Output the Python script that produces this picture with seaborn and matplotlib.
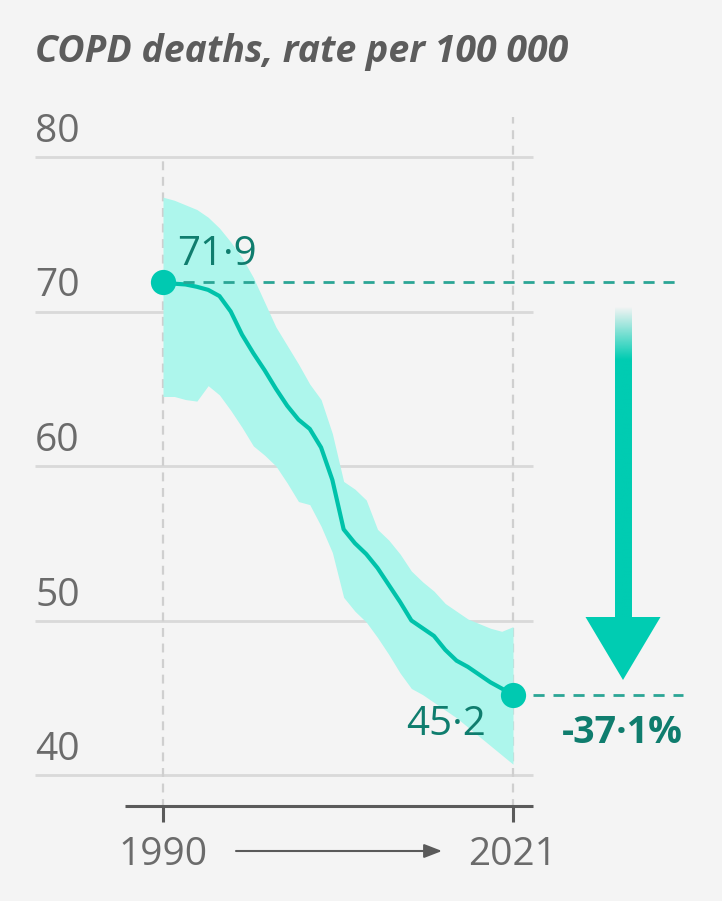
import matplotlib
matplotlib.use("Agg")
import matplotlib.pyplot as plt
import numpy as np
import pandas as pd
import seaborn as sns

# --- donnees ---
YEARS = list(range(1990, 2022))
RATE = [71.9, 71.8, 71.75, 71.6, 71.4, 71.0, 70.0, 68.5, 67.3, 66.2, 65.0, 63.9,
        63.0, 62.4, 61.2, 59.1, 55.9, 55.0, 54.3, 53.4, 52.3, 51.2, 50.0, 49.5,
        49.0, 48.1, 47.4, 47.0, 46.5, 46.0, 45.6, 45.2]
UPPER = [77.4, 77.2, 76.9, 76.6, 76.1, 75.4, 74.5, 73.5, 72.2, 70.6, 69.0, 67.8,
         66.6, 65.3, 64.3, 62.1, 59.0, 58.5, 57.8, 55.9, 55.2, 54.3, 53.2, 52.5,
         51.9, 51.1, 50.6, 50.1, 49.8, 49.5, 49.3, 49.6]
LOWER = [64.5, 64.5, 64.3, 64.2, 65.2, 64.6, 63.6, 62.5, 61.3, 60.7, 60.0, 58.9,
         57.7, 57.5, 56.1, 54.4, 51.5, 50.6, 49.9, 48.9, 47.8, 46.6, 45.6, 45.2,
         44.7, 44.2, 43.7, 43.1, 42.5, 41.9, 41.3, 40.7]
Y_TICKS = [40, 50, 60, 70, 80]
X_TICKS = [1990, 2021]
TITLE = "COPD deaths, rate per 100 000"
CHANGE = "-37·1%"

BG = "#f4f4f4"
GRID = "#d9d9d9"
AXIS = "#5a5a5a"
TXT = "#6b6b6b"
LINE = "#00c2aa"
BAND = "#adf6ec"
DOT = "#00c9b1"
DARK = "#0f7d6e"
ARROW = "#00ccb2"

df = pd.DataFrame({"year": YEARS, "rate": RATE, "upper": UPPER, "lower": LOWER})

sns.set_theme(style="white")
plt.rcParams["font.family"] = ["Open Sans", "DejaVu Sans"]

W, H = 722, 901
PX_YEAR = 350 / 31       # pixels par annee
PX_UNIT = 154.5 / 10     # pixels par unite


def px_x(p):
    return 1990 + (p - 163) / PX_YEAR


def px_y(p):
    return 80 - (p - 157) / PX_UNIT


fig = plt.figure(figsize=(W / 100, H / 100), dpi=100)
fig.patch.set_facecolor(BG)
ax = fig.add_axes([0, 0, 1, 1])

# grille
ax.hlines(Y_TICKS, px_x(35), px_x(533), color=GRID, lw=2, zorder=1)
for t in Y_TICKS:
    ax.text(px_x(35), t + 15 / PX_UNIT, str(t), ha="left", va="baseline",
            fontsize=28, color=TXT)
ax.vlines(X_TICKS[0], px_y(808), Y_TICKS[-1], color="#cfcfcf", lw=1.6,
          linestyles=(0, (4, 3)), zorder=1)
ax.vlines(X_TICKS[1], px_y(808), px_y(117), color="#cfcfcf", lw=1.6,
          linestyles=(0, (4, 3)), zorder=1)

# axe du bas
y_axis = px_y(806)
ax.hlines(y_axis, px_x(125), px_x(533), color=AXIS, lw=2.2, zorder=2)
ax.vlines(X_TICKS, y_axis, px_y(822), color=AXIS, lw=2.2, zorder=2)
for t in X_TICKS:
    ax.text(t, px_y(865), str(t), ha="center", va="baseline", fontsize=28, color=TXT)
ax.annotate("", xy=(px_x(442), px_y(851)), xytext=(px_x(236), px_y(851)),
            arrowprops=dict(arrowstyle="-|>,head_length=0.9,head_width=0.35",
                            color=AXIS, lw=1.5, shrinkA=0, shrinkB=0))

# bande + courbe
ax.fill_between(df["year"], df["lower"], df["upper"], color=BAND, lw=0, zorder=3)
sns.lineplot(data=df, x="year", y="rate", color=LINE, lw=3, ax=ax, zorder=4)
ends = df.iloc[[0, -1]]
sns.scatterplot(data=ends, x="year", y="rate", color=DOT, s=330, linewidth=0,
                ax=ax, zorder=5)

start, end = RATE[0], RATE[-1]
ax.hlines(start, px_x(183), px_x(683), color="#2aa595", lw=2, linestyles=(0, (4, 3.2)), zorder=4)
ax.hlines(end, px_x(533), px_x(683), color="#2aa595", lw=2, linestyles=(0, (4, 3.2)), zorder=4)

ax.text(px_x(177), start + 1.1, f"{start:.1f}".replace(".", "·"), ha="left",
        va="baseline", fontsize=29, color=DARK, zorder=6)
ax.text(px_x(486), end - 2.6, f"{end:.1f}".replace(".", "·"), ha="right",
        va="baseline", fontsize=29, color=DARK, zorder=6)
ax.text(px_x(622), end - 3.1, CHANGE, ha="center", va="baseline", fontsize=27,
        fontweight="bold", color=DARK, zorder=6)

# fleche a degrade
x_mid = px_x(623)
half = 8 / PX_YEAR
top, head_top, tip = start - 1.6, px_y(617), end + 0.95
grad = np.zeros((200, 1, 4))
grad[..., :3] = matplotlib.colors.to_rgb(ARROW)
grad[:, 0, 3] = np.clip(np.linspace(0, 1, 200) / 0.17, 0, 1)
ax.imshow(grad, extent=[x_mid - half, x_mid + half, head_top, top], origin="upper",
          aspect="auto", interpolation="bilinear", zorder=4)
hw = 37.5 / PX_YEAR
ax.fill([x_mid - hw, x_mid + hw, x_mid], [head_top, head_top, tip], color=ARROW,
        lw=0, zorder=4)

ax.set_xlim(px_x(0), px_x(W))
ax.set_ylim(px_y(H), px_y(0))
ax.axis("off")

fig.text(35 / W, 1 - 62 / H, TITLE, ha="left", va="baseline", fontsize=27,
         fontweight="bold", fontstyle="italic", color="#5c5c5c")

fig.savefig("out.png", dpi=100, facecolor=BG)
